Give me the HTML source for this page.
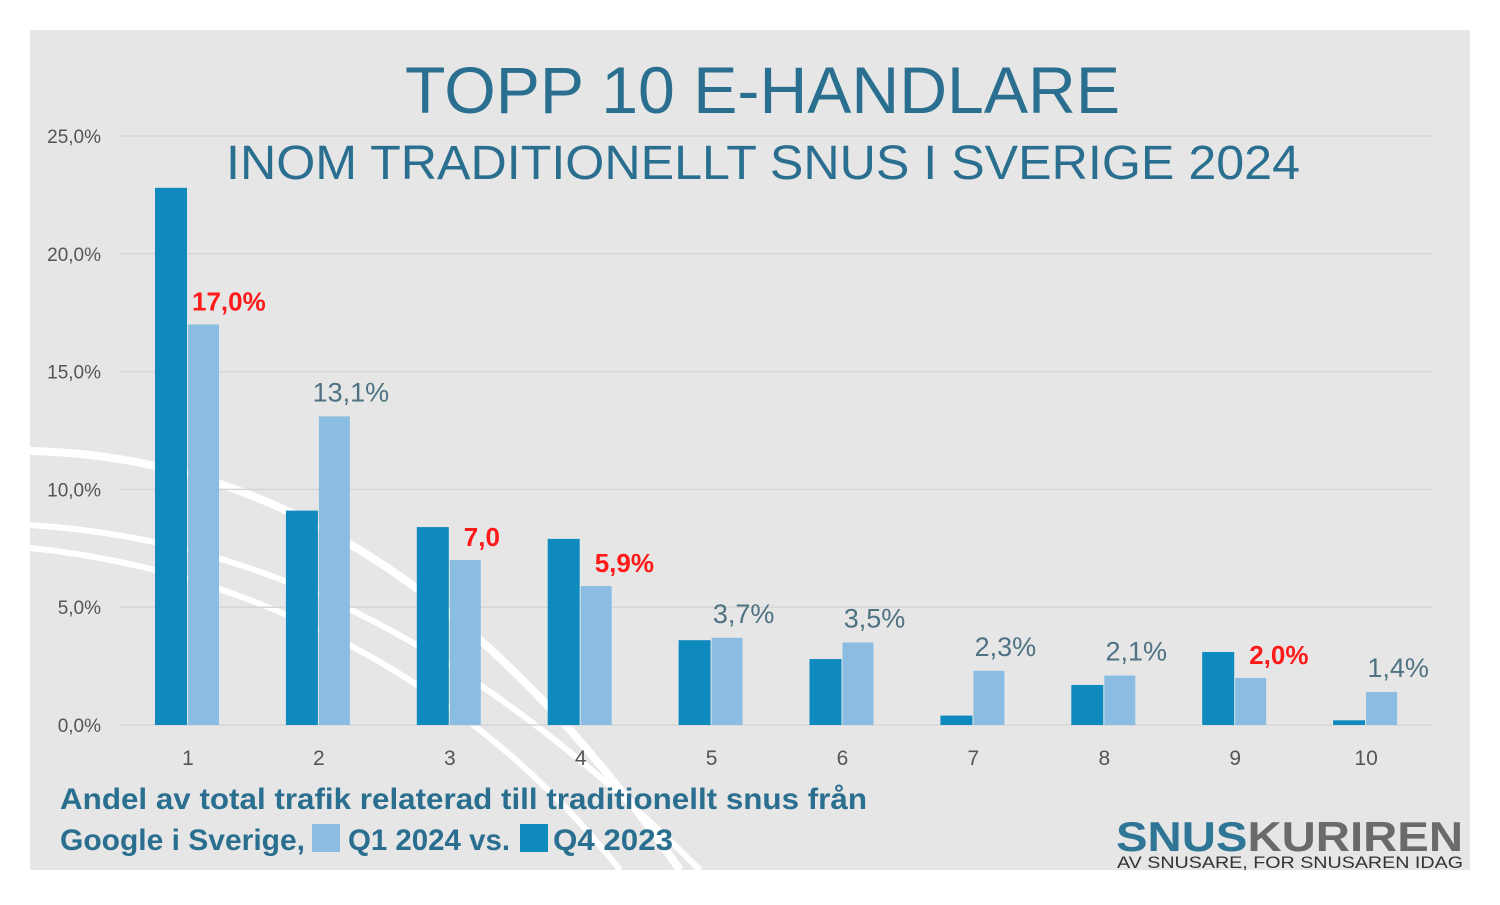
<!DOCTYPE html>
<html><head><meta charset="utf-8">
<style>
body{margin:0;background:#fff;width:1500px;height:900px;overflow:hidden;font-family:"Liberation Sans",sans-serif}
</style></head>
<body>
<svg id="chart" width="1500" height="900">
<rect x="30" y="30" width="1440" height="840" fill="#e6e6e6"/>
<g fill="none" stroke="#fff">
<path d="M30,451 C220,455 450,540 680,870" stroke-width="8"/>
<path d="M30,525 C260,540 470,640 700,870" stroke-width="6"/>
<path d="M30,548 C250,570 470,680 620,870" stroke-width="6"/>
</g>
<g id="grid"></g>
<g id="bars"></g>
<g id="labels"></g>
<text x="405" y="113" font-size="66" fill="#2a6f8f" textLength="715" lengthAdjust="spacingAndGlyphs">TOPP 10 E-HANDLARE</text>
<text x="226" y="179" font-size="48" fill="#2a6f8f" textLength="1074" lengthAdjust="spacingAndGlyphs">INOM TRADITIONELLT SNUS I SVERIGE 2024</text>
<text x="60" y="809" font-size="30" font-weight="bold" fill="#2a6f8f" textLength="807" lengthAdjust="spacingAndGlyphs">Andel av total trafik relaterad till traditionellt snus från</text>
<text x="60" y="850" font-size="30" font-weight="bold" fill="#2a6f8f" textLength="245" lengthAdjust="spacingAndGlyphs">Google i Sverige,</text>
<rect x="312" y="824" width="28" height="28" fill="#8bbde3"/>
<text x="348" y="850" font-size="30" font-weight="bold" fill="#2a6f8f" textLength="162" lengthAdjust="spacingAndGlyphs">Q1 2024 vs.</text>
<rect x="520" y="824" width="28" height="28" fill="#0e8abf"/>
<text x="553" y="850" font-size="30" font-weight="bold" fill="#2a6f8f" textLength="120" lengthAdjust="spacingAndGlyphs">Q4 2023</text>
<text x="1116" y="851" font-size="42" font-weight="bold" fill="#2e7596" textLength="347" lengthAdjust="spacingAndGlyphs">SNUS<tspan fill="#6a6a6a">KURIREN</tspan></text>
<text x="1117" y="868" font-size="17" fill="#333" textLength="346" lengthAdjust="spacingAndGlyphs">AV SNUSARE, FOR SNUSAREN IDAG</text>
</svg>
<script>
const categories=["1","2","3","4","5","6","7","8","9","10"];
const q4_2023=[22.8,9.1,8.4,7.9,3.6,2.8,0.4,1.7,3.1,0.2];
const q1_2024=[17.0,13.1,7.0,5.9,3.7,3.5,2.3,2.1,2.0,1.4];
const valueLabels=["17,0%","13,1%","7,0","5,9%","3,7%","3,5%","2,3%","2,1%","2,0%","1,4%"];
const highlighted=[true,false,true,true,false,false,false,false,true,false];
const yTicks=[0,5,10,15,20,25];
const yTickLabels=["0,0%","5,0%","10,0%","15,0%","20,0%","25,0%"];
const NS="http://www.w3.org/2000/svg";
const y=v=>725-v*(589/25);
const x=i=>188+i*130.9;
function mk(tag,attrs,parent,txt){const e=document.createElementNS(NS,tag);for(const k in attrs)e.setAttribute(k,attrs[k]);if(txt!==undefined)e.textContent=txt;parent.appendChild(e);return e;}
const grid=document.getElementById('grid'),bars=document.getElementById('bars'),labels=document.getElementById('labels');
yTicks.forEach((t,i)=>{
 const l=mk('line',{x1:120,x2:1432,y1:y(t),y2:y(t),stroke:'#d6d6d6','stroke-width':1.5},grid);
 
 
 const tx=mk('text',{x:101,y:y(t)+7,'text-anchor':'end','font-size':19,fill:'#555'},grid,yTickLabels[i]);
 
 
});
categories.forEach((c,i)=>{
 const cx=x(i);
 const d=mk('rect',{x:cx-33,y:y(q4_2023[i]),width:32,height:y(0)-y(q4_2023[i]),fill:'#0e8abf'},bars);
 
 
 const lb=mk('rect',{x:cx,y:y(q1_2024[i]),width:31,height:y(0)-y(q1_2024[i]),fill:'#8bbde3'},bars);
 
 
 const xt=mk('text',{x:cx,y:765,'text-anchor':'middle','font-size':21,fill:'#555'},labels,c);
 
 
 const h=highlighted[i];
 const vl=h
  ? mk('text',{x:cx+(i===0?4:14),y:y(q1_2024[i])-14,'font-size':26,'font-weight':'bold',fill:'#ff1a1a'},labels,valueLabels[i])
  : mk('text',{x:cx+32,y:y(q1_2024[i])-15,'text-anchor':'middle','font-size':27,fill:'#4e7282'},labels,valueLabels[i]);
 
 
});
</script>
</body></html>
